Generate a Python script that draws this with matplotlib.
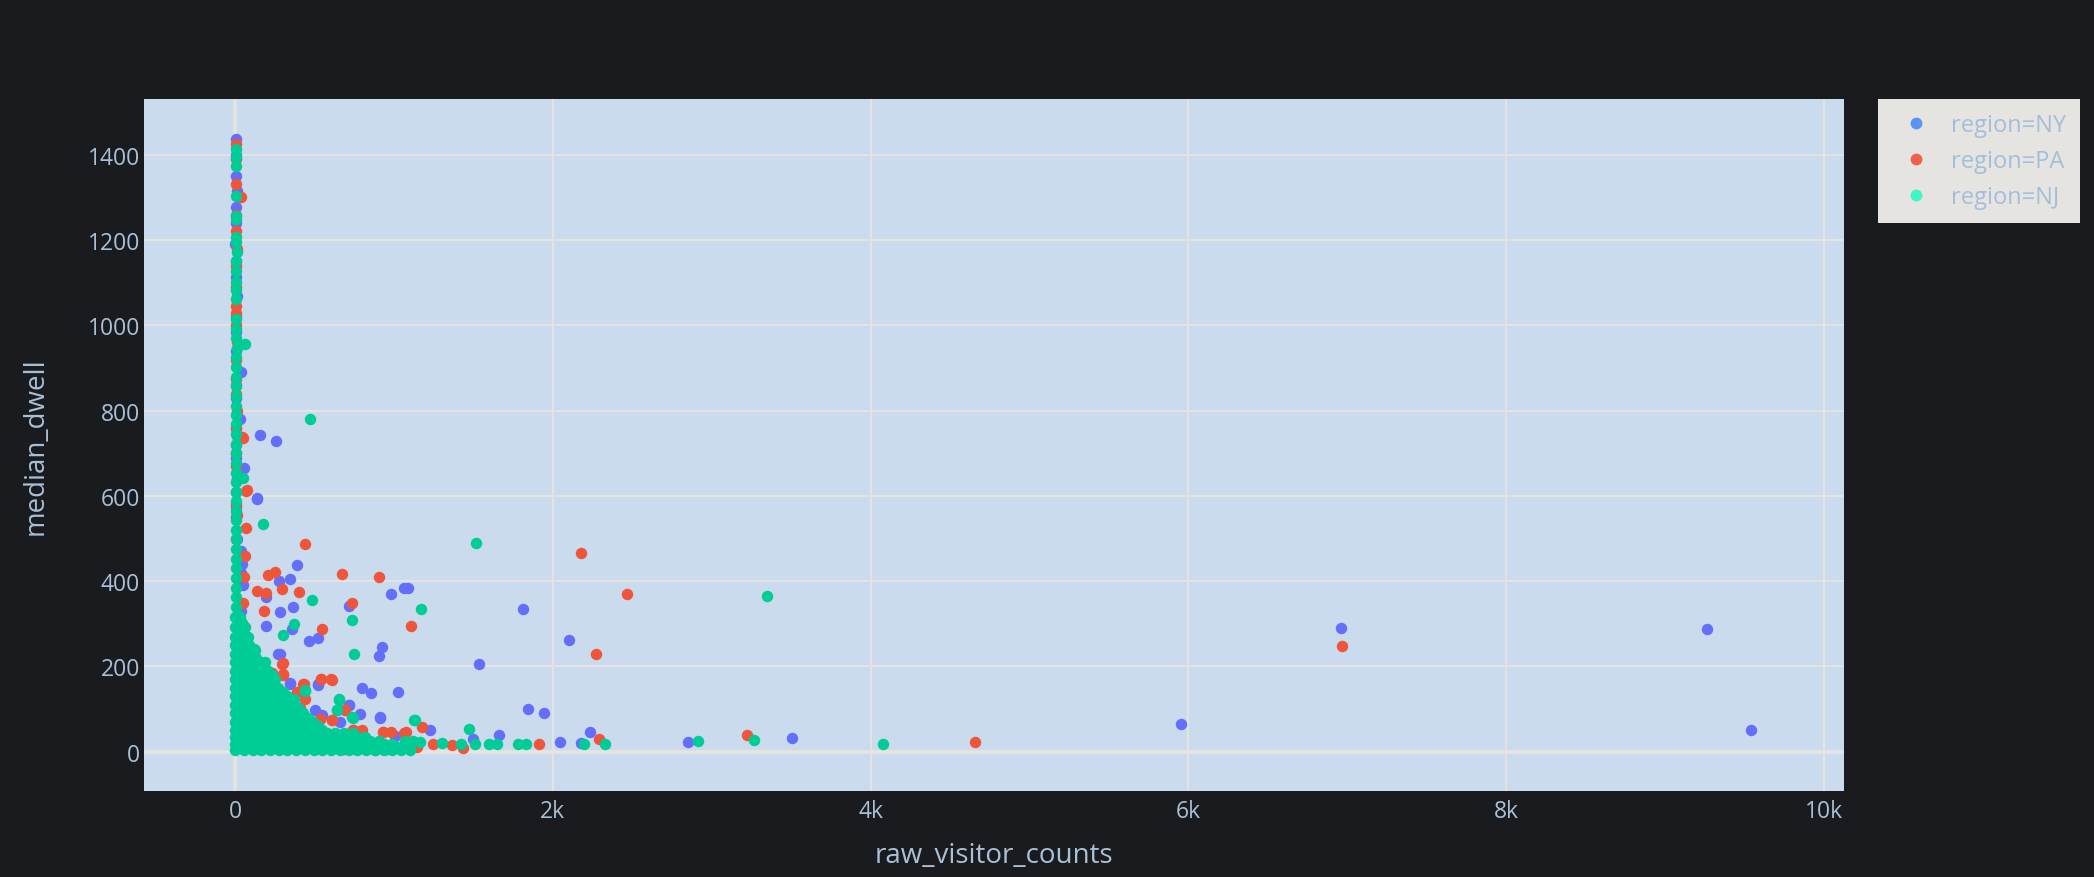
import matplotlib
matplotlib.use("Agg")
import matplotlib.pyplot as plt
from matplotlib.lines import Line2D
import numpy as np

plt.rcParams['font.family'] = ['Open Sans', 'DejaVu Sans']

regions = ["NY", "PA", "NJ"]
colors = {"NY": "#636efa", "PA": "#ef553b", "NJ": "#00cc96"}
legend_colors = {"NY": "#5b92f6", "PA": "#f0604a", "NJ": "#3ef5c6"}
x_ticks = [0, 2000, 4000, 6000, 8000, 10000]
x_tick_labels = ["0", "2k", "4k", "6k", "8k", "10k"]
y_ticks = [0, 200, 400, 600, 800, 1000, 1200, 1400]

# (raw_visitor_counts, median_dwell)
ny_points = [
    # spike near zero visitors
    (4, 1437), (8, 1400), (3, 1351), (10, 1315), (5, 1277), (9, 1240), (2, 1190),
    (7, 1150), (4, 1113), (11, 1070), (6, 1020), (3, 985), (8, 940), (38, 891),
    (5, 860), (9, 830), (32, 781), (6, 760), (10, 740), (3, 720), (7, 690),
    (59, 666), (12, 640), (5, 610), (9, 575), (4, 550), (11, 500), (40, 470),
    (45, 440), (50, 390), (35, 420), (40, 330), (20, 300), (25, 260),
    # scattered points
    (157, 743), (256, 730), (141, 593), (139, 596), (392, 438), (279, 401), (346, 406),
    (980, 371), (1064, 384), (1091, 384), (1813, 335), (195, 362), (715, 343),
    (283, 328), (363, 339), (197, 295), (359, 288), (464, 260), (525, 268),
    (925, 245), (908, 224), (2100, 263), (1538, 207), (281, 230), (273, 230),
    (230, 181), (348, 161), (346, 160), (522, 158), (521, 156), (801, 150),
    (854, 138), (1026, 141), (715, 110), (717, 110), (787, 89), (915, 80),
    (912, 81), (503, 99), (545, 86), (661, 71), (1007, 38), (1846, 101),
    (1943, 91), (1227, 52), (1660, 40), (2234, 47), (2046, 23), (2176, 21),
    (2849, 22), (1496, 29), (881, 3), (3508, 33), (5953, 65), (6960, 290),
    (9261, 288), (9538, 50),
    # dense part near the origin
    (60, 200), (120, 150), (180, 120), (250, 90), (320, 60), (400, 40),
    (480, 25), (600, 15), (700, 10), (800, 8), (150, 60), (90, 100),
]
pa_points = [
    (6, 1425), (9, 1390), (4, 1332), (38, 1300), (8, 1260), (5, 1222), (11, 1180),
    (3, 1140), (7, 1090), (5, 1046), (9, 1030), (4, 1000), (10, 960), (6, 920),
    (3, 875), (8, 840), (12, 800), (5, 760), (46, 738), (47, 736), (9, 700),
    (4, 670), (11, 640), (75, 613), (70, 612), (6, 580), (10, 555), (67, 525),
    (8, 500), (60, 460), (55, 410), (50, 350), (45, 300), (30, 280),
    (443, 487), (2180, 467), (210, 414), (252, 421), (676, 417), (908, 410),
    (2467, 370), (136, 378), (193, 372), (296, 381), (405, 374), (734, 349),
    (180, 331), (548, 287), (1108, 294), (2272, 229), (94, 246), (294, 206),
    (300, 208), (304, 183), (300, 181), (233, 184), (541, 171), (539, 171),
    (608, 169), (604, 170), (436, 159), (430, 160), (388, 140), (440, 124),
    (210, 136), (694, 98), (692, 98), (409, 102), (535, 76), (535, 77),
    (610, 74), (608, 74), (1179, 58), (2293, 30), (1913, 19), (1437, 9),
    (1368, 16), (1246, 19), (1064, 45), (929, 46), (933, 46), (980, 46),
    (1073, 46), (745, 52), (744, 51), (795, 48), (797, 50), (686, 7), (682, 7),
    (1148, 11), (3221, 39), (4657, 22), (6966, 249),
    (70, 220), (130, 160), (200, 110), (260, 80), (340, 55), (420, 35),
    (520, 22), (640, 14), (760, 9), (880, 6), (100, 80), (180, 50),
]
nj_points = [
    # spike
    (5, 1414), (8, 1395), (4, 1374), (6, 1304), (9, 1257), (5, 1250), (7, 1208),
    (4, 1195), (10, 1172), (6, 1150), (3, 1127), (8, 1101), (5, 1082), (9, 1062),
    (4, 1015), (7, 992), (5, 970), (63, 957), (10, 948), (3, 925), (8, 902),
    (5, 880), (9, 858), (4, 835), (7, 812), (6, 790), (3, 768), (8, 745),
    (5, 722), (9, 700), (4, 678), (7, 655), (50, 642), (6, 632), (3, 610),
    (8, 588), (5, 565), (9, 543), (4, 520), (7, 498), (6, 475), (3, 452),
    (8, 430), (5, 408), (9, 385), (4, 362), (7, 340),
    # dense mass
    (0, 4), (55, 4), (110, 4), (165, 4), (220, 4), (275, 4), (330, 4), (385, 4),
    (440, 4), (495, 4), (550, 4), (605, 4), (660, 4), (715, 4), (770, 4),
    (825, 4), (880, 4), (935, 4), (990, 4), (1045, 4), (1100, 4),
    (27, 11), (82, 11), (137, 11), (192, 11), (247, 11), (302, 11), (357, 11),
    (412, 11), (467, 11), (522, 11), (577, 11), (632, 11), (687, 11), (742, 11),
    (797, 11), (852, 11), (907, 11), (962, 11), (1017, 11), (1072, 11),
    (0, 18), (55, 18), (110, 18), (165, 18), (220, 18), (275, 18), (330, 18),
    (385, 18), (440, 18), (495, 18), (550, 18), (605, 18), (660, 18), (715, 18),
    (770, 18), (825, 18), (880, 18), (935, 18), (990, 18),
    (27, 26), (82, 26), (137, 26), (192, 26), (247, 26), (302, 26), (357, 26),
    (412, 26), (467, 26), (522, 26), (577, 26), (632, 26), (687, 26), (742, 26),
    (797, 26), (852, 26), (907, 26),
    (0, 34), (55, 34), (110, 34), (165, 34), (220, 34), (275, 34), (330, 34),
    (385, 34), (440, 34), (495, 34), (550, 34), (605, 34), (660, 34), (715, 34),
    (770, 34), (820, 34),
    (27, 43), (82, 43), (137, 43), (192, 43), (247, 43), (302, 43), (357, 43),
    (412, 43), (467, 43), (522, 43), (577, 43), (632, 43), (687, 43), (742, 43),
    (0, 52), (55, 52), (110, 52), (165, 52), (220, 52), (275, 52), (330, 52),
    (385, 52), (440, 52), (495, 52), (550, 52),
    (27, 61), (82, 61), (137, 61), (192, 61), (247, 61), (302, 61), (357, 61),
    (412, 61), (467, 61), (522, 61),
    (0, 70), (55, 70), (110, 70), (165, 70), (220, 70), (275, 70), (330, 70),
    (385, 70), (440, 70), (490, 70),
    (27, 80), (82, 80), (137, 80), (192, 80), (247, 80), (302, 80), (357, 80),
    (412, 80), (460, 80),
    (0, 90), (55, 90), (110, 90), (165, 90), (220, 90), (275, 90), (330, 90),
    (385, 90), (430, 90),
    (27, 100), (82, 100), (137, 100), (192, 100), (247, 100), (302, 100),
    (357, 100), (405, 100),
    (0, 110), (55, 110), (110, 110), (165, 110), (220, 110), (275, 110),
    (330, 110), (380, 110),
    (27, 120), (82, 120), (137, 120), (192, 120), (247, 120), (302, 120), (350, 120),
    (0, 130), (55, 130), (110, 130), (165, 130), (220, 130), (275, 130), (330, 130),
    (27, 140), (82, 140), (137, 140), (192, 140), (247, 140), (300, 140),
    (0, 150), (55, 150), (110, 150), (165, 150), (220, 150), (270, 150),
    (27, 160), (82, 160), (137, 160), (192, 160), (245, 160),
    (0, 170), (55, 170), (110, 170), (165, 170), (220, 170), (250, 170),
    (27, 180), (82, 180), (137, 180), (192, 180), (230, 180),
    (0, 190), (55, 190), (110, 190), (165, 190), (205, 190),
    (27, 200), (82, 200), (137, 200), (185, 200),
    (0, 210), (55, 210), (110, 210), (160, 210),
    (27, 220), (82, 220), (135, 220),
    (0, 230), (50, 230), (100, 230),
    (27, 240), (75, 240), (120, 240),
    (0, 250), (45, 250), (90, 250),
    (25, 260), (65, 260),
    (0, 270), (40, 270), (80, 270),
    (20, 281), (50, 281),
    (0, 292), (35, 292), (60, 292),
    (18, 303), (45, 303),
    (0, 315), (30, 315),
    # scattered points
    (474, 781), (179, 535), (1517, 490), (485, 356), (1169, 334), (369, 299),
    (734, 308), (302, 274), (749, 229), (126, 238), (189, 210), (443, 143),
    (440, 144), (373, 124), (273, 132), (657, 122), (654, 123), (640, 97),
    (640, 98), (745, 80), (734, 81), (1131, 75), (1128, 75), (1475, 54),
    (2329, 19), (2197, 19), (1783, 19), (1832, 19), (1597, 19), (1649, 19),
    (2916, 25), (1513, 19), (1420, 18), (1305, 20), (1068, 26), (1122, 26),
    (1164, 23), (955, 7), (3348, 365), (3266, 27), (4081, 19),
]
points = {"NY": ny_points, "PA": pa_points, "NJ": nj_points}

bg = "#1a1b1e"
text_color = "#a9c0d7"
grid_color = "#e6e4e1"

fig = plt.figure(figsize=(20.94, 8.78), dpi=100, facecolor=bg)
ax = fig.add_axes([144 / 2094, 86 / 878, 1700 / 2094, 692 / 878])
ax.set_facecolor("#c9dbec")

for r in regions:
    pts = np.array(points[r], dtype=float)
    ax.scatter(pts[:, 0], pts[:, 1], s=68, color=colors[r], linewidths=0,
               zorder=3, label="region=" + r)

ax.set_xlim(-573, 10126)
ax.set_ylim(-92, 1531)
ax.set_xticks(x_ticks)
ax.set_xticklabels(x_tick_labels)
ax.set_yticks(y_ticks)
ax.grid(True, color=grid_color, linewidth=1.4, zorder=1)
ax.set_axisbelow(True)
ax.axhline(0, color=grid_color, linewidth=2.8, zorder=1.5)
ax.axvline(0, color=grid_color, linewidth=2.6, zorder=1.5)
for s in ax.spines.values():
    s.set_visible(False)
ax.tick_params(length=0, labelsize=16.5, labelcolor=text_color)
ax.tick_params(axis="x", pad=6)
ax.tick_params(axis="y", pad=3)

ax.set_xlabel("raw_visitor_counts", fontsize=20, color=text_color)
ax.set_ylabel("median_dwell", fontsize=20, color=text_color)
ax.xaxis.set_label_coords(0.5, -0.0925)
ax.xaxis.label.set_va("center")
ax.yaxis.set_label_coords(-0.0635, 0.5)
ax.yaxis.label.set_va("center")

handles = [Line2D([], [], marker="o", linestyle="", markersize=8.5,
                  markerfacecolor=legend_colors[r], markeredgewidth=0)
           for r in regions]
leg = fig.legend(handles, ["region=" + r for r in regions], loc="upper left",
                 bbox_to_anchor=(1878 / 2094, 1 - 100 / 878), fontsize=17,
                 frameon=True, fancybox=False, borderpad=0.6, handlelength=2.0,
                 handletextpad=0.5, labelspacing=0.5, borderaxespad=0)
leg.get_frame().set_facecolor("#e6e4e0")
leg.get_frame().set_edgecolor("none")
leg.get_frame().set_alpha(1)
for t in leg.get_texts():
    t.set_color("#a3bedb")

fig.savefig("out.png", dpi=100, facecolor=bg)
